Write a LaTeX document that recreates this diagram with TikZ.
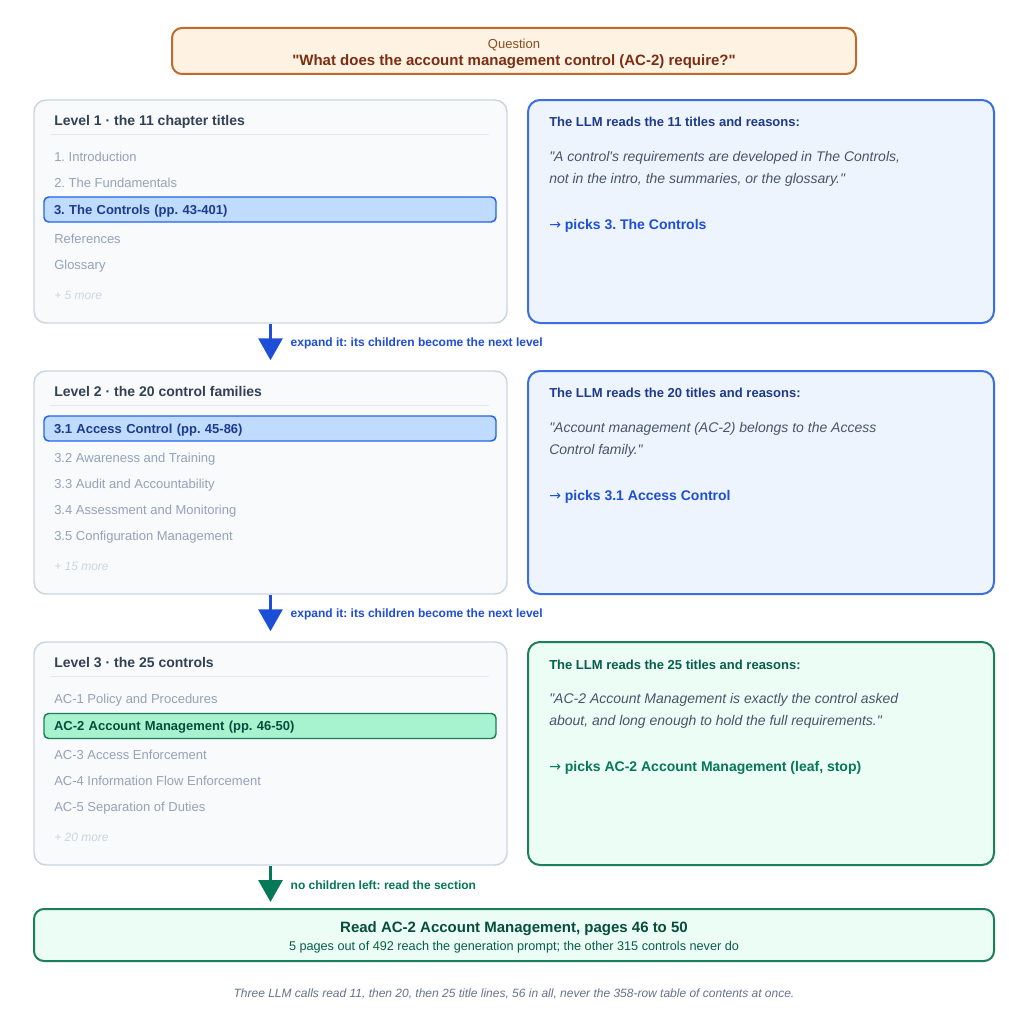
\documentclass[tikz,border=0pt]{standalone}
\usepackage{fontspec}
\setmainfont{Liberation Sans}[Ligatures=TeXOff]
\newfontfamily\arrowfont{DejaVu Sans}
\usepackage{xcolor}
\usepackage{tikz}
\usetikzlibrary{positioning,arrows.meta}

\definecolor{qfill}{HTML}{FEF3E2}
\definecolor{qline}{HTML}{C0692C}
\definecolor{qhead}{HTML}{8A4A1E}
\definecolor{qtext}{HTML}{7C2D12}
\definecolor{panelfill}{HTML}{F8FAFC}
\definecolor{panelline}{HTML}{CBD5E1}
\definecolor{rulegray}{HTML}{E2E8F0}
\definecolor{headgray}{HTML}{334155}
\definecolor{entrygray}{HTML}{94A3B8}
\definecolor{moregray}{HTML}{CBD5E1}
\definecolor{bluefill}{HTML}{EEF4FE}
\definecolor{blueline}{HTML}{3B6FE0}
\definecolor{bluehl}{HTML}{BFDBFE}
\definecolor{bluehlline}{HTML}{2563EB}
\definecolor{bluedark}{HTML}{1E3A8A}
\definecolor{bluepick}{HTML}{1D4ED8}
\definecolor{quotegray}{HTML}{475569}
\definecolor{greenfill}{HTML}{ECFDF5}
\definecolor{greenline}{HTML}{1B7F5A}
\definecolor{greenhl}{HTML}{A7F3D0}
\definecolor{greendark}{HTML}{064E3B}
\definecolor{greenhead}{HTML}{065F46}
\definecolor{greenpick}{HTML}{047857}
\definecolor{footgray}{HTML}{64748B}

\newcommand{\picks}{{\arrowfont\mdseries →} }

\begin{document}
\frenchspacing
\begin{tikzpicture}[
  x=0.75pt, y=-0.75pt,
  every node/.style={inner sep=0pt},
  panel/.style={rectangle,draw=panelline,fill=panelfill,line width=1.1pt,
                rounded corners=9pt,minimum width=354.75pt,minimum height=167.25pt},
  why/.style={rectangle,line width=1.5pt,rounded corners=9pt,
              minimum width=349.5pt,minimum height=167.25pt},
  hlbox/.style={rectangle,line width=1.1pt,rounded corners=3.5pt,minimum width=339pt,
                minimum height=18.75pt,text width=324pt,inner xsep=7.5pt,align=left,
                text height=7pt,text depth=0pt,
                font=\fontsize{9.75pt}{12pt}\selectfont\bfseries},
  lvltitle/.style={anchor=base west,text=headgray,font=\fontsize{10.5pt}{12pt}\selectfont\bfseries},
  entry/.style={anchor=base west,text=entrygray,font=\fontsize{9.75pt}{12pt}\selectfont},
  moreline/.style={anchor=base west,text=moregray,font=\fontsize{9pt}{11pt}\selectfont\itshape},
  whyhead/.style={anchor=base west,font=\fontsize{9.75pt}{12pt}\selectfont\bfseries},
  quote/.style={anchor=base west,text=quotegray,font=\fontsize{10.5pt}{12pt}\selectfont\itshape},
  pick/.style={anchor=base west,font=\fontsize{10.5pt}{12pt}\selectfont\bfseries},
  sep/.style={draw=rulegray,line width=0.75pt},
  flow/.style={-{Triangle[length=16.5pt,width=18pt]},line width=2.25pt},
  flowlbl/.style={right=14pt,font=\fontsize{9pt}{11pt}\selectfont\bfseries}
]
\path[fill=white] (0,0) rectangle (1008,1024);

% ---- question ----
\node[rectangle,draw=qline,fill=qfill,line width=1.5pt,rounded corners=7.5pt,
      minimum width=513pt,minimum height=34.5pt] (q) at (514,51) {};
\node[anchor=base,text=qhead,font=\fontsize{9.75pt}{12pt}\selectfont] (qlabel) at (514,48.5) {Question};
\node[anchor=base,text=qtext,font=\fontsize{11.25pt}{13pt}\selectfont\bfseries] (qtxt) at (514,66)
  {"What does the account management control (AC-2) require?"};

% ---- level 1 ----
\node[panel] (lvl1) at (270.5,211.5) {};
\node[lvltitle] (t1) at (54,125) {Level 1 · the 11 chapter titles};
\draw[sep] (50,134) -- (489,134);
\node[entry] (e1a) at (54,161) {1. Introduction};
\node[entry] (e1b) at (54,187) {2. The Fundamentals};
\node[hlbox,draw=bluehlline,fill=bluehl,text=bluedark] (hl1) at (270,209.5) {3. The Controls (pp. 43-401)};
\node[entry] (e1d) at (54,243) {References};
\node[entry] (e1e) at (54,269) {Glossary};
\node[moreline] (m1) at (54,299) {+ 5 more};

\node[why,draw=blueline,fill=bluefill] (why1) at (761,211.5) {};
\node[whyhead,text=bluedark] (h1) at (549,127) {The LLM reads the 11 titles and reasons:};
\node[quote] (r1a) at (549,161) {"A control's requirements are developed in The Controls,};
\node[quote] (r1b) at (549,183) {not in the intro, the summaries, or the glossary."};
\node[pick,text=bluepick] (p1) at (549,229) {\picks picks 3. The Controls};

% ---- level 2 ----
\node[panel] (lvl2) at (270.5,482.5) {};
\node[lvltitle] (t2) at (54,396) {Level 2 · the 20 control families};
\draw[sep] (50,405) -- (489,405);
\node[hlbox,draw=bluehlline,fill=bluehl,text=bluedark] (hl2) at (270,428.5) {3.1 Access Control (pp. 45-86)};
\node[entry] (e2b) at (54,462) {3.2 Awareness and Training};
\node[entry] (e2c) at (54,488) {3.3 Audit and Accountability};
\node[entry] (e2d) at (54,514) {3.4 Assessment and Monitoring};
\node[entry] (e2e) at (54,540) {3.5 Configuration Management};
\node[moreline] (m2) at (54,570) {+ 15 more};

\node[why,draw=blueline,fill=bluefill] (why2) at (761,482.5) {};
\node[whyhead,text=bluedark] (h2) at (549,397) {The LLM reads the 20 titles and reasons:};
\node[quote] (r2a) at (549,432) {"Account management (AC-2) belongs to the Access};
\node[quote] (r2b) at (549,454) {Control family."};
\node[pick,text=bluepick] (p2) at (549,500) {\picks picks 3.1 Access Control};

% ---- level 3 ----
\node[panel] (lvl3) at (270.5,753.5) {};
\node[lvltitle] (t3) at (54,667) {Level 3 · the 25 controls};
\draw[sep] (50,676) -- (489,676);
\node[entry] (e3a) at (54,703) {AC-1 Policy and Procedures};
\node[hlbox,draw=greenline,fill=greenhl,text=greendark] (hl3) at (270,726) {AC-2 Account Management (pp. 46-50)};
\node[entry] (e3c) at (54,759) {AC-3 Access Enforcement};
\node[entry] (e3d) at (54,785) {AC-4 Information Flow Enforcement};
\node[entry] (e3e) at (54,811) {AC-5 Separation of Duties};
\node[moreline] (m3) at (54,841) {+ 20 more};

\node[why,draw=greenline,fill=greenfill] (why3) at (761,753.5) {};
\node[whyhead,text=greenhead] (h3) at (549,669) {The LLM reads the 25 titles and reasons:};
\node[quote] (r3a) at (549,703) {"AC-2 Account Management is exactly the control asked};
\node[quote] (r3b) at (549,725) {about, and long enough to hold the full requirements."};
\node[pick,text=greenpick] (p3) at (549,771) {\picks picks AC-2 Account Management (leaf, stop)};

% ---- result ----
\node[rectangle,draw=greenline,fill=greenfill,line width=1.5pt,rounded corners=7.5pt,
      minimum width=720pt,minimum height=39pt] (final) at (514,935) {};
\node[anchor=base,text=greendark,font=\fontsize{11.25pt}{13pt}\selectfont\bfseries] (ftitle) at (514,932)
  {Read AC-2 Account Management, pages 46 to 50};
\node[anchor=base,text=greenhead,font=\fontsize{9.5pt}{12pt}\selectfont] (fsub) at (514,950.5)
  {5 pages out of 492 reach the generation prompt; the other 315 controls never do};

% ---- arrows ----
\draw[flow,bluepick,shorten >=7.5pt] (lvl1.south) --
  node[flowlbl,pos=0.42,text=bluepick] {expand it: its children become the next level} (lvl2.north);
\draw[flow,bluepick,shorten >=7.5pt] (lvl2.south) --
  node[flowlbl,pos=0.42,text=bluepick] {expand it: its children become the next level} (lvl3.north);
\draw[flow,greenpick,shorten >=4.5pt] (lvl3.south) --
  node[flowlbl,pos=0.45,text=greenpick] {no children left: read the section} (lvl3.south |- final.north);

% ---- footer ----
\node[anchor=base,text=footgray,font=\fontsize{9pt}{11pt}\selectfont\itshape] (foot) at (514,997)
  {Three LLM calls read 11, then 20, then 25 title lines, 56 in all, never the 358-row table of contents at once.};

\end{tikzpicture}
\end{document}
